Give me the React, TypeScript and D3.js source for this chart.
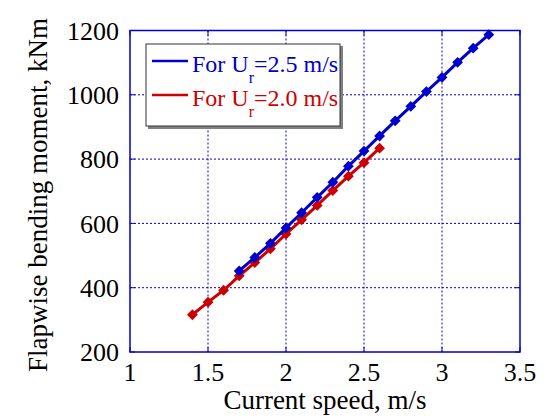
import React from "react";
import * as d3 from "d3";

const xBlue = [1.7, 1.8, 1.9, 2.0, 2.1, 2.2, 2.3, 2.4, 2.5, 2.6, 2.7, 2.8, 2.9, 3.0, 3.1, 3.2, 3.3];
const yBlue = [452, 494, 538, 586, 633, 681, 728, 778, 825, 872, 919, 964, 1010, 1054, 1101, 1145, 1187];
const xRed = [1.4, 1.5, 1.6, 1.7, 1.8, 1.9, 2.0, 2.1, 2.2, 2.3, 2.4, 2.5, 2.6];
const yRed = [316, 355, 392, 437, 478, 521, 567, 611, 656, 702, 747, 789, 834];
const xTicks = [1, 1.5, 2, 2.5, 3, 3.5];
const yTicks = [200, 400, 600, 800, 1000, 1200];
const legendLabels = ["2.5", "2.0"];

const W = 543, H = 417;
const M = { left: 130, right: 520, top: 30.5, bottom: 352 };
const BLUE = "#0000cc";
const RED = "#cc0000";
const FONT = "Liberation Serif";

const x = d3.scaleLinear().domain([1, 3.5]).range([M.left, M.right]);
const y = d3.scaleLinear().domain([200, 1200]).range([M.bottom, M.top]);
const line = d3.line<[number, number]>().x((d) => x(d[0])).y((d) => y(d[1]));
const diamond = d3.symbol().type(d3.symbolDiamond2).size(75)() as string;

function Series({ xs, ys, color }: { xs: number[]; ys: number[]; color: string }) {
  const pts = xs.map((v, i) => [v, ys[i]] as [number, number]);
  return (
    <g>
      <path d={line(pts) as string} fill="none" stroke={color} strokeWidth={3} />
      {pts.map((p, i) => (
        <path key={i} d={diamond} transform={`translate(${x(p[0])},${y(p[1])})`} fill={color} />
      ))}
    </g>
  );
}

export default function App() {
  const txt = { fontFamily: FONT, fill: "#000" } as React.CSSProperties;
  const rows = [
    { c: BLUE, ly: 61, by: 72, lab: legendLabels[0] },
    { c: RED, ly: 95, by: 106, lab: legendLabels[1] },
  ];
  return (
    <svg width={W} height={H} style={{ position: "absolute", left: 0, top: 0, background: "white" }}>
      <rect width={W} height={H} fill="white" />
      {xTicks.slice(1, -1).map((t) => (
        <line key={"gx" + t} x1={x(t)} x2={x(t)} y1={M.top} y2={M.bottom} stroke={BLUE} strokeWidth={1} strokeDasharray="2,2" />
      ))}
      {yTicks.slice(1, -1).map((t) => (
        <line key={"gy" + t} y1={y(t)} y2={y(t)} x1={M.left} x2={M.right} stroke={BLUE} strokeWidth={1} strokeDasharray="2,2" />
      ))}
      {xTicks.map((t) => (
        <g key={"tx" + t}>
          <line x1={x(t)} x2={x(t)} y1={M.bottom} y2={M.bottom - 5} stroke={BLUE} />
          <line x1={x(t)} x2={x(t)} y1={M.top} y2={M.top + 5} stroke={BLUE} />
          <text x={x(t)} y={381} textAnchor="middle" style={{ ...txt, fontSize: "26px" }}>{String(t)}</text>
        </g>
      ))}
      {yTicks.map((t) => (
        <g key={"ty" + t}>
          <line y1={y(t)} y2={y(t)} x1={M.left} x2={M.left + 5} stroke={BLUE} />
          <line y1={y(t)} y2={y(t)} x1={M.right} x2={M.right - 5} stroke={BLUE} />
          <text x={119} y={y(t)} dy="0.35em" textAnchor="end" style={{ ...txt, fontSize: "26px" }}>{String(t)}</text>
        </g>
      ))}
      <rect x={M.left} y={M.top} width={M.right - M.left} height={M.bottom - M.top} fill="none" stroke={BLUE} strokeWidth={1.5} />
      <text x={(M.left + M.right) / 2} y={409} textAnchor="middle" style={{ ...txt, fontSize: "27px" }}>Current speed, m/s</text>
      <text transform="translate(47,195) rotate(-90)" textAnchor="middle" style={{ ...txt, fontSize: "27px" }}>Flapwise bending moment, kNm</text>

      <Series xs={xRed} ys={yRed} color={RED} />
      <Series xs={xBlue} ys={yBlue} color={BLUE} />

      <rect x={148} y={46} width={195} height={83} fill="#808080" />
      <rect x={146} y={44} width={194} height={82} fill="white" stroke="#333" strokeWidth={1} />
      {rows.map((r) => (
        <g key={r.lab}>
          <line x1={152} x2={188} y1={r.ly} y2={r.ly} stroke={r.c} strokeWidth={2.5} />
          <text x={192} y={r.by} style={{ fontFamily: FONT, fontSize: "24px", fill: r.c }}>
            For U
            <tspan dy={11} style={{ fontSize: "16px" }}>r</tspan>
            <tspan dy={-11}>{`=${r.lab} m/s`}</tspan>
          </text>
        </g>
      ))}
    </svg>
  );
}
